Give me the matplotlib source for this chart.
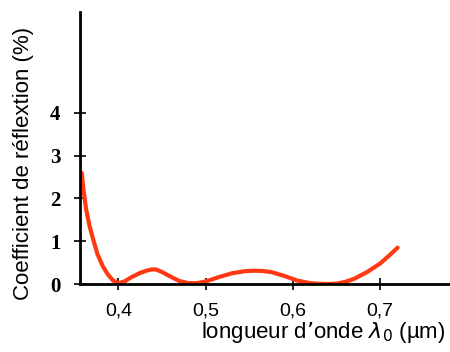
import numpy as np
import matplotlib.pyplot as plt

# Données
lambda0 = [0.358, 0.360, 0.363, 0.367, 0.371, 0.376, 0.382, 0.388, 0.394, 0.400,
           0.407, 0.415, 0.425, 0.432, 0.438, 0.443, 0.450, 0.460, 0.470, 0.480, 0.490,
           0.500, 0.515, 0.530, 0.545, 0.555, 0.565, 0.575, 0.590, 0.605, 0.620, 0.630,
           0.640, 0.650, 0.660, 0.670, 0.685, 0.700, 0.710, 0.720]
reflexion = [2.6, 2.2, 1.75, 1.35, 1.05, 0.7, 0.42, 0.22, 0.08, 0.02,
             0.06, 0.16, 0.26, 0.31, 0.34, 0.34, 0.28, 0.17, 0.07, 0.02, 0.02,
             0.06, 0.16, 0.25, 0.30, 0.31, 0.305, 0.28, 0.19, 0.08, 0.02, 0.005,
             0.00, 0.01, 0.05, 0.12, 0.28, 0.48, 0.66, 0.85]

x_ticks = [0.4, 0.5, 0.6, 0.7]
x_labels = ["0,4", "0,5", "0,6", "0,7"]
y_ticks = [0, 1, 2, 3, 4]

fig = plt.figure(figsize=(4.5, 3.52), dpi=100)
ax = fig.add_axes([80/450, 68/352, 370/450, 272/352])

ax.plot(lambda0, reflexion, color='#ff3a12', linewidth=3, solid_capstyle='round')

ax.set_xlim(0.356, 0.780)
ax.set_ylim(0, 6.36)
ax.set_xticks(x_ticks)
ax.set_xticklabels(x_labels, fontsize=14, family='Liberation Sans')
ax.set_yticks(y_ticks)
ax.set_yticklabels([str(v) for v in y_ticks], fontsize=15, family='Liberation Serif',
                   fontweight='bold')
ax.tick_params(direction='inout', length=8, width=1.2)
ax.tick_params(axis='x', pad=9)
ax.tick_params(axis='y', pad=10)

for s in ['top', 'right']:
    ax.spines[s].set_visible(False)
for s in ['left', 'bottom']:
    ax.spines[s].set_linewidth(2)

fig.text(0.99, 0.02, "longueur d\u2019onde $\\lambda_0$ (\u00b5m)", ha='right', va='bottom',
         fontsize=16, family='Liberation Sans')
fig.text(0.053, 0.535, "Coefficient de r\u00e9flextion (%)", rotation=90, ha='center',
         va='center', fontsize=16, family='Liberation Sans')

fig.savefig("out.png", dpi=100)
